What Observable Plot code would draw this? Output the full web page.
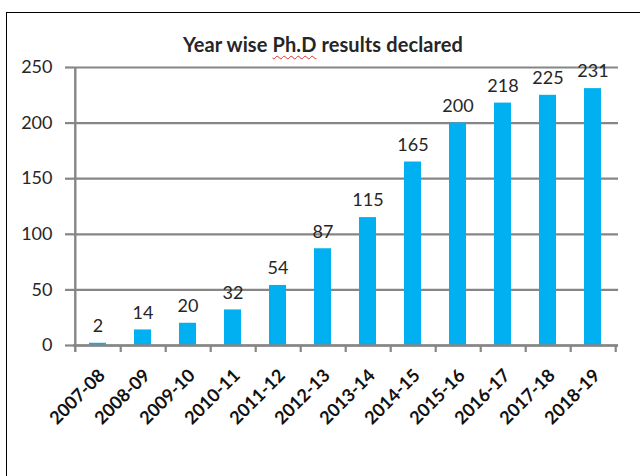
<!DOCTYPE html>
<html>
<head>
<meta charset="utf-8">
<script src="https://cdn.jsdelivr.net/npm/d3@7"></script>
<script src="https://cdn.jsdelivr.net/npm/@observablehq/plot@0.6"></script>
<style>
  html, body { margin: 0; padding: 0; background: #fff; overflow: hidden; }
  #wrap { position: relative; width: 640px; height: 476px; overflow: hidden; }
  #frame { position: absolute; left: 6px; top: 12px; width: 700px; height: 600px; border: 1px solid #000; box-sizing: border-box; }
  #title { position: absolute; left: 0; width: 646px; top: 31px; text-align: center; font-family: Lato, sans-serif; font-weight: bold; font-size: 20px; line-height: 26px; color: #262626; letter-spacing: 0.1px; }
  #title span { text-decoration: underline wavy #e03030; text-decoration-thickness: 1px; text-underline-offset: 3px; }
  #chart { position: absolute; left: 0; top: 0; }
</style>
</head>
<body>
<div id="wrap">
  <div id="frame"></div>
  <div id="chart"></div>
  <div id="title">Year wise <span>Ph.D</span> results declared</div>
</div>
<script>
const years = ["2007-08","2008-09","2009-10","2010-11","2011-12","2012-13","2013-14","2014-15","2015-16","2016-17","2017-18","2018-19"];
const results = [2, 14, 20, 32, 54, 87, 115, 165, 200, 218, 225, 231];
const yTicks = [0, 50, 100, 150, 200, 250];

const data = years.map((y, i) => ({year: y, value: results[i]}));

const W = 640, H = 476, ML = 73, MR = 22, MT = 67, MB = 131;
const step = (W - ML - MR) / years.length;
const grey = "#868686";
const font = "Lato, sans-serif";

const chart = Plot.plot({
  width: W,
  height: H,
  marginLeft: ML,
  marginRight: MR,
  marginTop: MT,
  marginBottom: MB,
  style: {fontFamily: font, background: "transparent", overflow: "visible"},
  x: {domain: years, paddingInner: 0.62, paddingOuter: 0.31, label: null},
  y: {domain: [0, 250], label: null},
  marks: [
    Plot.gridY(yTicks, {stroke: grey, strokeOpacity: 1, strokeWidth: 2.2}),
    Plot.axisY(yTicks, {tickSize: 8, tickPadding: 13, stroke: grey, strokeWidth: 2.2, fontSize: 18, fill: "#262626", label: null}),
    Plot.barY(data, {x: "year", y: "value", fill: "#00B0F0"}),
    Plot.ruleY([0], {stroke: grey, strokeWidth: 2.4}),
    Plot.ruleX([years[0]], {x: d => d, y1: 0, y2: 250, dx: -step / 2, insetTop: 7, stroke: grey, strokeWidth: 2.4}),
    Plot.ruleX(years, {x: d => d, y1: 0, y2: 0, dx: step / 2, insetTop: 7, stroke: grey, strokeWidth: 2.2}),
    Plot.text(data, {x: "year", y: "value", text: d => String(d.value), dy: -17, fontSize: 18, fill: "#262626", fontFamily: font}),
    Plot.axisX({tickSize: 0, tickRotate: -45, tickPadding: 17, dx: 4, dy: 10, fontSize: 18, fontWeight: "bold", fill: "#111", label: null, style: {letterSpacing: "-0.9px"}})
  ]
});
document.getElementById("chart").appendChild(chart);
</script>
</body>
</html>
